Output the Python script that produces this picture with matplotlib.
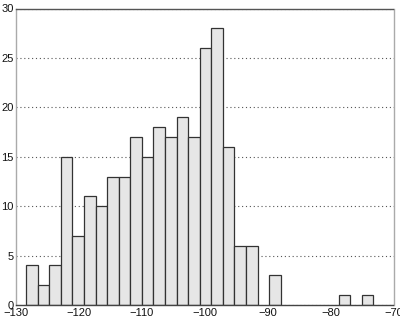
import numpy as np
import matplotlib
matplotlib.use("Agg")
import matplotlib.pyplot as plt

plt.rcParams['font.family'] = ['Liberation Sans', 'DejaVu Sans']

bin_start = -128.4
bin_end = -73.2
counts = [4, 2, 4, 15, 7, 11, 10, 13, 13, 17, 15, 18, 17, 19, 17, 26, 28, 16,
          6, 6, 0, 3, 0, 0, 0, 0, 0, 1, 0, 1]
xticks = [-130, -120, -110, -100, -90, -80, -70]
yticks = [0, 5, 10, 15, 20, 25, 30]

edges = np.linspace(bin_start, bin_end, len(counts) + 1)

fig = plt.figure(figsize=(4.0, 3.23), dpi=100)
ax = fig.add_axes([16/400, 1 - 305/323, (393.5-16)/400, (305-8.5)/323])

ax.set_axisbelow(True)
ax.yaxis.grid(True, linestyle=(0, (1, 2.5)), color='#555555', linewidth=0.8)
nz = [i for i, c in enumerate(counts) if c > 0]
ax.bar(edges[:-1][nz], np.array(counts)[nz], width=np.diff(edges)[nz], align='edge',
       color='#e6e6e6', edgecolor='#333333', linewidth=0.9)

ax.set_xlim(-130, -70)
ax.set_ylim(0, 30)
ax.set_xticks(xticks)
ax.set_yticks(yticks)
ax.set_xticklabels([f"\u2212{abs(t)}" for t in xticks])
ax.tick_params(length=0, labelsize=8, pad=2, colors='#111111')
ax.tick_params(axis='y', pad=1.5)

ax.spines['top'].set_color('#555555')
ax.spines['bottom'].set_color('#444444')
ax.spines['left'].set_color('#aaaaaa')
ax.spines['right'].set_color('#aaaaaa')
for s in ax.spines.values():
    s.set_linewidth(1.0)

fig.savefig('out.png', dpi=100)
